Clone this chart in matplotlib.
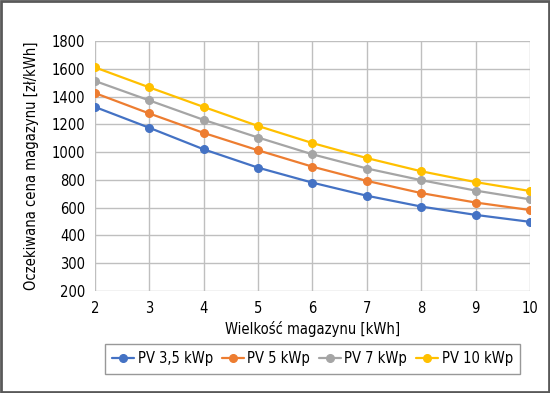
import matplotlib
matplotlib.use("Agg")
import matplotlib.pyplot as plt
from matplotlib.patches import Rectangle

plt.rcParams['font.family'] = ['DejaVu Sans']
plt.rcParams['font.stretch'] = 'condensed'

# data
storage_kwh = [2, 3, 4, 5, 6, 7, 8, 9, 10]
pv_3_5 = [1325, 1175, 1020, 888, 780, 686, 608, 548, 498]
pv_5 = [1425, 1278, 1138, 1013, 895, 793, 705, 637, 583]
pv_7 = [1512, 1372, 1232, 1105, 984, 882, 798, 723, 660]
pv_10 = [1610, 1466, 1325, 1188, 1065, 957, 862, 784, 720]

series_names = ['PV 3,5 kWp', 'PV 5 kWp', 'PV 7 kWp', 'PV 10 kWp']
colors = ['#4472c4', '#ed7d31', '#a5a5a5', '#ffc000']

y_ticks = [0, 200, 400, 600, 800, 1000, 1200, 1400, 1600, 1800]
# labels as printed on the original chart
y_tick_labels = ['200', '300', '400', '600', '800', '1000', '1200', '1400', '1600', '1800']

fig = plt.figure(figsize=(5.5, 3.93), dpi=100)
ax = fig.add_axes([0.1727, 0.2595, 0.7909, 0.6362])

for vals, name, c in zip([pv_3_5, pv_5, pv_7, pv_10], series_names, colors):
    ax.plot(storage_kwh, vals, color=c, lw=1.6, marker='o', ms=5.5, label=name,
            solid_capstyle='round')

ax.set_xlim(2, 10)
ax.set_ylim(0, 1800)
ax.set_xticks(storage_kwh)
ax.set_yticks(y_ticks)
ax.set_yticklabels(y_tick_labels)
ax.grid(True, color='#bfbfbf', lw=1)
ax.set_axisbelow(True)
for s in ax.spines.values():
    s.set_visible(False)
ax.tick_params(length=0, labelsize=10.5, pad=7)

ax.set_xlabel('Wielkość magazynu [kWh]', fontsize=10.5, labelpad=4)
ax.set_ylabel('Oczekiwana cena magazynu [zł/kWh]', fontsize=10.5, labelpad=9)

leg = ax.legend(loc='upper center', bbox_to_anchor=(0.5, -0.212), ncol=4,
                fontsize=10.5, frameon=True, fancybox=False, edgecolor='#7f7f7f',
                handlelength=1.5, handletextpad=0.25, columnspacing=0.6,
                borderpad=0.5, borderaxespad=0)
leg.get_frame().set_linewidth(1)

fig.patches.append(Rectangle((0.002, 0.003), 0.996, 0.994, transform=fig.transFigure,
                             fill=False, edgecolor='#595959', lw=2))

fig.savefig('out.png', dpi=100)
